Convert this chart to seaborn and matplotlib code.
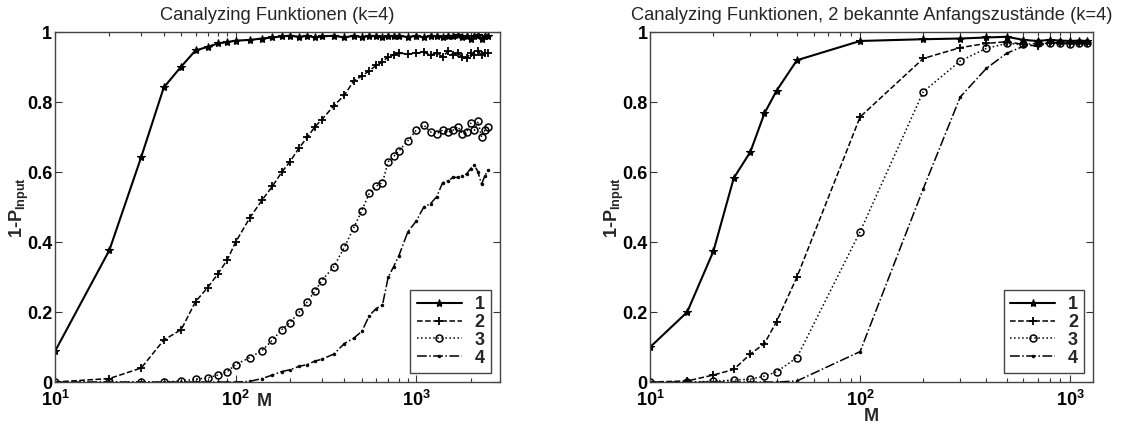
import numpy as np
import pandas as pd
import matplotlib
matplotlib.use("Agg")
import matplotlib.pyplot as plt
import matplotlib.ticker as mticker
import seaborn as sns

# ---------------- data: left panel ----------------
left_title = "Canalyzing Funktionen (k=4)"
left_M = [10, 20, 30, 40, 50, 60, 70, 80, 90, 100, 120, 140, 160, 180, 200, 225, 250,
          275, 300, 350, 400, 450, 500, 550, 600, 650, 700, 750, 800, 900, 1000, 1100,
          1200, 1300, 1400, 1500, 1600, 1700, 1800, 1900, 2000, 2100, 2200, 2300, 2400, 2500]
left_s1 = [0.088, 0.377, 0.643, 0.842, 0.902, 0.948, 0.958, 0.968, 0.972, 0.976, 0.978,
           0.982, 0.985, 0.988, 0.990, 0.987, 0.990, 0.985, 0.988, 0.990, 0.985, 0.990,
           0.986, 0.990, 0.988, 0.985, 0.990, 0.988, 0.990, 0.986, 0.990, 0.985, 0.990,
           0.988, 0.985, 0.990, 0.988, 0.992, 0.985, 0.990, 0.980, 0.990, 0.992, 0.980,
           0.990, 0.990]
left_s2 = [0.0, 0.01, 0.04, 0.12, 0.15, 0.23, 0.27, 0.31, 0.35, 0.40, 0.47, 0.52, 0.56,
           0.60, 0.63, 0.67, 0.70, 0.73, 0.75, 0.79, 0.82, 0.86, 0.875, 0.89, 0.905, 0.915,
           0.93, 0.935, 0.94, 0.938, 0.94, 0.943, 0.935, 0.94, 0.93, 0.945, 0.935, 0.94,
           0.93, 0.925, 0.94, 0.935, 0.945, 0.935, 0.94, 0.94]
left_s3 = [0.0, 0.0, 0.0, 0.0, 0.003, 0.008, 0.012, 0.02, 0.03, 0.05, 0.07, 0.09, 0.12,
           0.15, 0.17, 0.20, 0.23, 0.26, 0.29, 0.33, 0.385, 0.44, 0.49, 0.54, 0.56, 0.57,
           0.63, 0.645, 0.66, 0.69, 0.72, 0.735, 0.715, 0.71, 0.72, 0.715, 0.72, 0.73,
           0.71, 0.715, 0.74, 0.72, 0.745, 0.70, 0.72, 0.73]
left_s4 = [0.0, 0.0, 0.0, 0.0, 0.0, 0.0, 0.0, 0.0, 0.0, 0.0, 0.002, 0.01, 0.02, 0.03,
           0.035, 0.045, 0.05, 0.06, 0.065, 0.08, 0.11, 0.125, 0.145, 0.19, 0.21, 0.22,
           0.30, 0.33, 0.36, 0.43, 0.46, 0.50, 0.51, 0.53, 0.57, 0.575, 0.585, 0.585,
           0.59, 0.595, 0.61, 0.62, 0.60, 0.565, 0.59, 0.605]

# ---------------- data: right panel ----------------
right_title = "Canalyzing Funktionen, 2 bekannte Anfangszustände (k=4)"
right_M = [10, 15, 20, 25, 30, 35, 40, 50, 100, 200, 300, 400, 500, 600, 700, 800, 900,
           1000, 1100, 1200]
right_s1 = [0.10, 0.20, 0.374, 0.583, 0.658, 0.768, 0.833, 0.92, 0.975, 0.98, 0.982,
            0.985, 0.987, 0.978, 0.975, 0.978, 0.976, 0.975, 0.976, 0.975]
right_s2 = [0.0, 0.003, 0.02, 0.036, 0.08, 0.11, 0.173, 0.30, 0.758, 0.925, 0.956, 0.968,
            0.973, 0.965, 0.96, 0.97, 0.97, 0.968, 0.97, 0.97]
right_s3 = [0.0, 0.0, 0.002, 0.006, 0.008, 0.017, 0.029, 0.07, 0.43, 0.83, 0.918, 0.954,
            0.968, 0.965, 0.968, 0.968, 0.97, 0.965, 0.968, 0.968]
right_s4 = [0.0, 0.0, 0.0, 0.0, 0.0, 0.0, 0.0, 0.003, 0.087, 0.553, 0.815, 0.897, 0.94,
            0.96, 0.965, 0.97, 0.97, 0.97, 0.972, 0.97]

series_labels = ["1", "2", "3", "4"]
y_ticks = [0, 0.2, 0.4, 0.6, 0.8, 1]
y_ticklabels = ["0", "0.2", "0.4", "0.6", "0.8", "1"]
x_label = "M"
y_label = r"1-P$_{\mathbf{Input}}$"

# ---------------- style ----------------
sns.set_style("ticks", {"xtick.direction": "in", "ytick.direction": "in"})
plt.rcParams["font.family"] = ["Liberation Sans", "DejaVu Sans"]
plt.rcParams["mathtext.fontset"] = "custom"
plt.rcParams["mathtext.rm"] = "Liberation Sans:bold"
plt.rcParams["mathtext.bf"] = "Liberation Sans:bold"
plt.rcParams["mathtext.it"] = "Liberation Sans:bold"

styles = [
    dict(linestyle="-", marker="*", markersize=6, linewidth=1.5,
         markeredgecolor="black", markeredgewidth=0.8),
    dict(linestyle="--", marker="+", markersize=6, markeredgewidth=1.3, linewidth=1.1,
         markeredgecolor="black"),
    dict(linestyle=":", marker="o", markersize=5, markerfacecolor="none",
         markeredgewidth=1.1, linewidth=1.1, markeredgecolor="black"),
    dict(linestyle="-.", marker=".", markersize=4, linewidth=1.1,
         markeredgecolor="black", markeredgewidth=0.5),
]

fig = plt.figure(figsize=(11.23, 4.24), dpi=100)
ax1 = fig.add_axes([0.049, 0.099, 0.396, 0.825])
ax2 = fig.add_axes([0.579, 0.099, 0.3945, 0.825])

def draw(ax, xs, ys_list, title, xlim, xlabel_pos):
    for ys, lab, st in zip(ys_list, series_labels, styles):
        df = pd.DataFrame({"M": xs, "P": ys})
        sns.lineplot(data=df, x="M", y="P", ax=ax, color="black", label=lab,
                     estimator=None, sort=True, **st)
    ax.set_xscale("log")
    ax.set_xlim(*xlim)
    ax.set_ylim(0, 1)
    ax.set_yticks(y_ticks)
    ax.set_yticklabels(y_ticklabels, fontsize=13, fontweight="bold")
    ax.xaxis.set_major_locator(mticker.LogLocator(base=10, numticks=10))
    ax.xaxis.set_minor_locator(mticker.LogLocator(base=10, subs=np.arange(2, 10), numticks=20))
    ax.xaxis.set_major_formatter(
        mticker.FuncFormatter(lambda v, p: r"$\mathbf{10^{%d}}$" % round(np.log10(v))))
    ax.xaxis.set_minor_formatter(mticker.NullFormatter())
    ax.tick_params(axis="both", which="both", direction="in", top=True, right=True,
                   colors="#333333", labelcolor="black", width=0.8)
    ax.tick_params(axis="y", which="major", length=5, pad=2, labelsize=13)
    ax.tick_params(axis="x", which="major", length=5, pad=6, labelsize=13)
    ax.tick_params(axis="x", which="minor", length=3)
    for sp in ax.spines.values():
        sp.set_visible(True)
        sp.set_color("#444444")
        sp.set_linewidth(1.0)
    ax.set_title(title, fontsize=13.2, pad=9)
    ax.set_xlabel(x_label, fontsize=13, fontweight="bold")
    ax.xaxis.set_label_coords(*xlabel_pos)
    ax.set_ylabel(y_label, fontsize=13, fontweight="bold")
    ax.yaxis.set_label_coords(-0.055, 0.5)
    leg = ax.legend(loc="lower right", handlelength=2.5, labelspacing=0.05,
                    borderpad=0.35, handletextpad=0.7, borderaxespad=0.5, fancybox=False,
                    framealpha=1, edgecolor="#444444", prop={"weight": "bold", "size": 13})
    leg.get_frame().set_linewidth(1.0)

draw(ax1, left_M, [left_s1, left_s2, left_s3, left_s4], left_title, (10, 2900), (0.47, -0.03))
draw(ax2, right_M, [right_s1, right_s2, right_s3, right_s4], right_title, (10, 1290), (0.5, -0.075))

fig.savefig("out.png", dpi=100)
